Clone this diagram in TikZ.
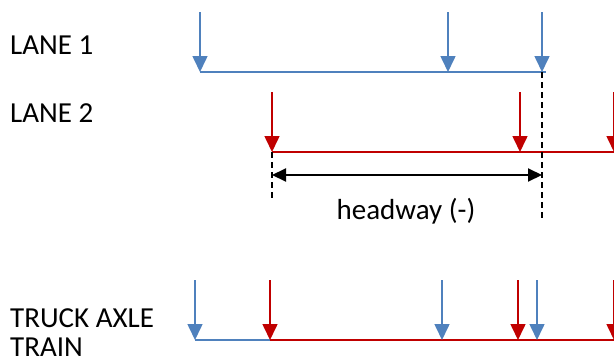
\documentclass[tikz,border=0pt]{standalone}
\usepackage{fontspec}
\setmainfont{Carlito}
\usetikzlibrary{arrows.meta}
\definecolor{laneblue}{RGB}{79,129,189}
\definecolor{lanered}{RGB}{192,0,0}
\tikzset{
  axle/.style={line width=1.6pt,-{Triangle[width=15pt,length=16pt]}},
  blueaxle/.style={axle,draw=laneblue,fill=laneblue},
  redaxle/.style={axle,draw=lanered,fill=lanered},
  baseline/.style={line width=2pt},
  guide/.style={line width=1.6pt,dash pattern=on 6pt off 4pt},
  span/.style={line width=2pt,{Triangle[width=13pt,length=14pt]}-{Triangle[width=13pt,length=14pt]}},
  label/.style={font=\fontsize{29}{30}\selectfont,inner sep=0pt,anchor=base west}
}
\begin{document}
\begin{tikzpicture}[x=1pt,y=-1pt]
  \useasboundingbox (0,0) rectangle (614,362);

  % lane labels
  \node[label] (l1) at (10,54) {LANE 1};
  \node[label] (l2) at (10,122) {LANE 2};
  \node[label] (tr1) at (10,327) {TRUCK AXLE};
  \node[label] (tr2) at (10,356) {TRAIN};

  % lane 1 axles
  \foreach \n/\x in {a/200,b/448,c/542}{
    \coordinate (b1\n top) at (\x,12);
    \coordinate (b1\n) at (\x,72);
    \draw[blueaxle] (b1\n top) -- (b1\n);
  }
  \coordinate (b1end) at (546,72);
  \draw[baseline,laneblue] (b1a) -- (b1end);

  % lane 2 axles
  \foreach \n/\x in {a/272,b/520,c/614}{
    \coordinate (r2\n top) at (\x,92);
    \coordinate (r2\n) at (\x,152);
    \draw[redaxle] (r2\n top) -- (r2\n);
  }
  \coordinate (r2end) at (630,152);
  \draw[baseline,lanered] (r2a) -- (r2end);

  % headway between the leading axles
  \coordinate (g1end) at (272,200);
  \coordinate (g2end) at (542,220);
  \draw[guide] (r2a) -- (g1end);
  \draw[guide] (b1c) -- (g2end);
  \coordinate (h1) at (272,175);
  \coordinate (h2) at (542,175);
  \draw[span] (h1) -- (h2);
  \node[label,anchor=base] (hw) at (406,219) {headway (-)};

  % combined truck axle train
  \foreach \n/\x in {a/195,b/442,c/537}{
    \coordinate (tb\n top) at (\x,280);
    \coordinate (tb\n) at (\x,340);
  }
  \foreach \n/\x in {a/270,b/518,c/614}{
    \coordinate (tr\n top) at (\x,280);
    \coordinate (tr\n) at (\x,340);
  }
  \draw[baseline,laneblue] (tba) -- (tra);
  \coordinate (trend) at (630,340);
  \draw[baseline,lanered] (tra) -- (trend);
  \foreach \n in {a,b,c}{
    \draw[blueaxle] (tb\n top) -- (tb\n);
    \draw[redaxle] (tr\n top) -- (tr\n);
  }
\end{tikzpicture}
\end{document}
